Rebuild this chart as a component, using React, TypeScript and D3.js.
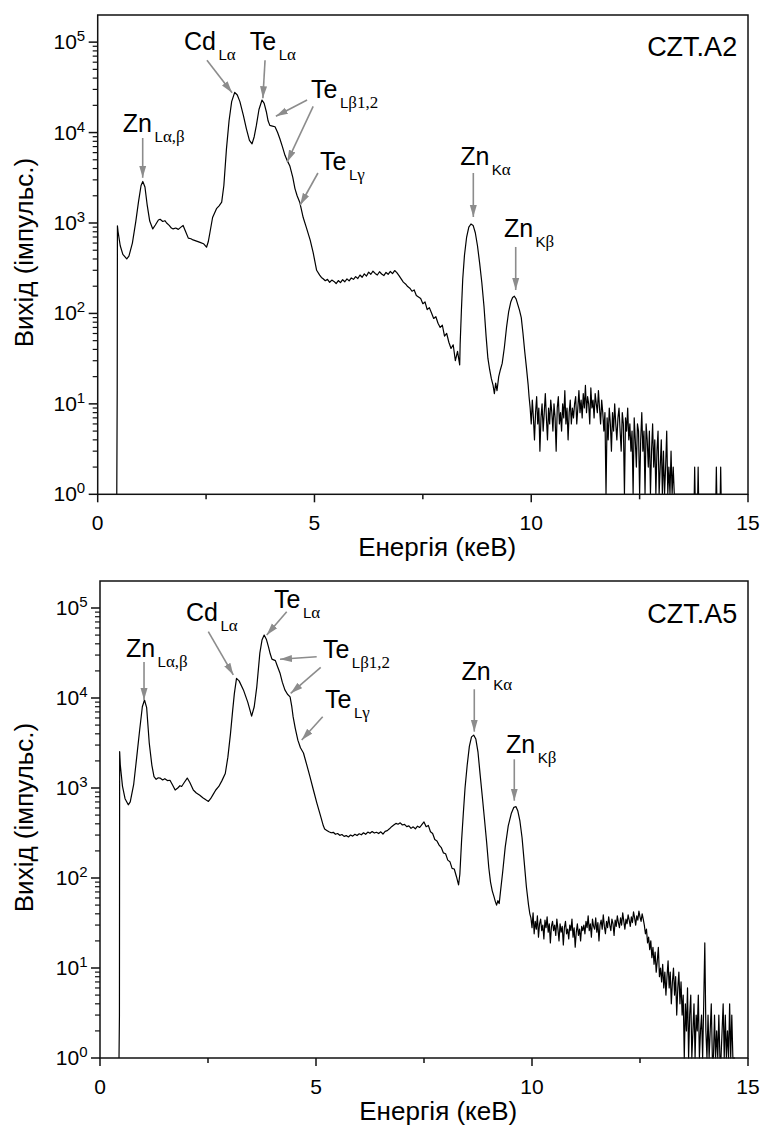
import React from 'react';
import * as d3 from 'd3';

type Pair = [number, number];

// ---------- axes ----------
const xMajorTicks = [0, 5, 10, 15];
const xMinorTicks = [2.5, 7.5, 12.5];
const yDecades = [0, 1, 2, 3, 4, 5];
const yTopExponent = 5.3;

// ---------- CZT.A2 spectrum ----------
const a2Head: Pair[] = [[0.44,1],[0.45,14],[0.455,930],[0.47,800],[0.52,560],[0.58,450],[0.67,400],[0.72,430],[0.8,600],[0.88,1050],[0.94,1700],[1.0,2600],[1.04,2880],[1.09,2500],[1.14,1600],[1.2,1050],[1.27,860],[1.33,950],[1.4,1080],[1.44,1100],[1.5,1040],[1.55,1060],[1.59,1000],[1.65,940],[1.7,880],[1.74,860],[1.8,880],[1.86,850],[1.92,900],[1.97,940],[2.02,820],[2.09,680],[2.15,670],[2.2,650],[2.28,630],[2.36,610],[2.44,590],[2.51,540],[2.55,620],[2.59,790],[2.65,1150],[2.74,1440],[2.8,1550],[2.86,1700],[2.91,2600],[2.97,6600],[3.03,13500],[3.09,22000],[3.16,27800],[3.22,26000],[3.28,22000],[3.36,15500],[3.43,11000],[3.5,8200],[3.56,7500],[3.61,9000],[3.66,12000],[3.72,18000],[3.79,22900],[3.84,21000],[3.89,17000],[3.93,13500],[3.97,12000],[4.03,11800],[4.09,11600],[4.15,10000],[4.2,8600],[4.26,7000],[4.32,5600],[4.38,4800],[4.43,4300],[4.5,3200],[4.55,2400],[4.6,2000],[4.66,1700],[4.74,1150],[4.81,900],[4.9,650],[4.97,470],[5.05,300],[5.12,265],[5.16,250]];
const a2MidStart = 5.2;
const a2MidStep = 0.05;
const a2Mid = [242,230,238,221,234,226,214,231,219,236,224,241,229,247,238,255,243,266,251,274,259,286,271,293,277,266,289,273,262,284,271,291,276,298,283,262,241,222,212,198,190,176,182,158,152,146,128,134,110,116,101,88,92,78,70,74,56,60,48,41,45,30,38,27];
const a2K: Pair[] = [[8.36,45],[8.39,110],[8.42,240],[8.46,440],[8.51,700],[8.56,900],[8.61,975],[8.66,940],[8.71,780],[8.76,560],[8.81,360],[8.86,220],[8.91,120],[8.96,55],[9.0,32],[9.04,24],[9.08,19],[9.12,16],[9.15,13],[9.18,17],[9.21,14],[9.25,20],[9.29,24],[9.33,28],[9.38,42],[9.43,70],[9.48,105],[9.53,135],[9.57,150],[9.61,155],[9.65,145],[9.69,125],[9.73,108],[9.77,90],[9.81,60],[9.85,38],[9.89,25],[9.93,16],[9.95,12]];
const a2TailStart = 9.975;
const a2TailStep = 0.025;
const a2Tail = [9,6,11,7,4,8,12,6,9,3,7,10,5,8,13,7,4,9,6,11,8,5,10,7,3,9,12,6,8,5,10,7,14,6,9,4,8,11,6,9,
  7,10,12,6,9,14,8,11,7,13,9,16,8,12,10,6,15,9,11,7,13,10,8,14,9,6,11,8,
  5,8,1,7,4,9,6,3,8,5,10,6,4,7,9,5,3,8,6,1,7,5,9,4,
  6,3,5,1,7,4,2,6,5,1,4,8,3,5,1,6,4,2,5,1,3,6,2,4,1,3,5,1,
  2,4,1,3,1,2,5,1,2,1,3,1,2,1];
const a2End: Pair[] = [[13.32,1],[13.76,1],[13.77,2],[13.78,1],[13.84,1],[13.85,2],[13.86,1],[14.26,1],[14.27,2],[14.28,1],[14.36,1],[14.37,2],[14.38,1]];

// ---------- CZT.A5 spectrum ----------
const a5Head: Pair[] = [[0.44,1],[0.45,3],[0.455,2530],[0.47,1800],[0.52,1050],[0.58,760],[0.655,650],[0.7,700],[0.78,1100],[0.85,2200],[0.92,4500],[0.98,8000],[1.03,9500],[1.08,7800],[1.14,3160],[1.2,1800],[1.25,1340],[1.3,1250],[1.35,1300],[1.39,1290],[1.45,1230],[1.5,1270],[1.56,1210],[1.62,1220],[1.68,1080],[1.74,950],[1.8,1000],[1.85,1060],[1.89,1040],[1.95,1150],[2.02,1290],[2.08,1150],[2.16,950],[2.23,880],[2.31,830],[2.38,780],[2.45,740],[2.51,710],[2.56,760],[2.62,850],[2.68,950],[2.75,1040],[2.82,1200],[2.9,1450],[2.96,2200],[3.02,4000],[3.07,7200],[3.11,11200],[3.16,16500],[3.22,15500],[3.32,12300],[3.42,9000],[3.51,6300],[3.57,8000],[3.63,13400],[3.7,31500],[3.75,44000],[3.8,50000],[3.85,45000],[3.9,37000],[3.94,31000],[3.98,27000],[4.02,26500],[4.06,26000],[4.1,23000],[4.17,18700],[4.22,15000],[4.28,12300],[4.34,11000],[4.4,10300],[4.44,8000],[4.47,6200],[4.52,4600],[4.58,3400],[4.64,2800],[4.71,2450],[4.78,1850],[4.86,1340],[4.94,950],[5.02,680],[5.1,500],[5.17,380]];
const a5MidStart = 5.2;
const a5MidStep = 0.05;
const a5Mid = [350,338,326,318,322,306,312,298,304,290,296,286,300,292,306,296,310,302,318,306,324,314,328,316,322,312,326,308,330,336,352,372,388,404,396,410,388,394,372,380,356,370,352,376,364,392,420,372,384,326,312,268,258,232,218,190,186,158,152,128,126,104,84];
const a5K: Pair[] = [[8.33,110],[8.37,260],[8.41,520],[8.45,1000],[8.5,1800],[8.55,2900],[8.6,3700],[8.65,3870],[8.7,3500],[8.75,2500],[8.8,1400],[8.85,800],[8.9,450],[8.95,250],[9.0,130],[9.04,90],[9.08,72],[9.12,62],[9.15,55],[9.18,50],[9.21,56],[9.24,52],[9.27,70],[9.32,115],[9.38,220],[9.45,380],[9.52,520],[9.58,610],[9.63,620],[9.67,560],[9.72,430],[9.77,280],[9.82,150],[9.87,80],[9.92,50],[9.95,40]];
const a5TailStart = 9.975;
const a5TailStep = 0.025;
const a5Tail = [36,28,41,24,33,27,38,22,31,35,26,30,21,34,28,37,25,31,19,29,33,
  26,30,23,35,27,20,31,25,29,18,28,33,24,27,21,30,26,35,22,28,17,25,31,23,27,20,29,26,
  30,24,33,28,38,26,31,22,35,29,27,36,25,32,20,30,34,27,39,29,24,33,28,37,30,26,35,31,23,34,29,38,
  32,28,36,30,41,33,27,35,31,39,34,29,37,32,42,36,30,38,34,43,37,33,40,35,
  30,24,27,19,22,16,20,13,17,11,15,9,12,17,8,10,
  7,11,6,9,5,8,12,6,9,4,7,10,5,8,3,6,9,4,7,3,
  5,1,4,2,6,1,3,5,1,2,4,1,3,2,5,1,2,3,1,4,
  19,2,1,3,1,2,4,1,1,3,1,2,1,3,1,1,2,4,1,3,1,2,1,4,1,3,1,1];
const a5End: Pair[] = [[14.7,1]];

// ---------- annotations (energy, log10 counts) ----------
type Label = { main: string; sub: string; greek: string; e: number; lg: number };
const a2Labels: Label[] = [
  { main: 'Zn', sub: 'L', greek: 'α,β', e: 0.58, lg: 4.01 },
  { main: 'Cd', sub: 'L', greek: 'α', e: 1.99, lg: 4.916 },
  { main: 'Te', sub: 'L', greek: 'α', e: 3.51, lg: 4.916 },
  { main: 'Te', sub: 'L', greek: 'β1,2', e: 4.92, lg: 4.38 },
  { main: 'Te', sub: 'L', greek: 'γ', e: 5.13, lg: 3.586 },
  { main: 'Zn', sub: 'K', greek: 'α', e: 8.36, lg: 3.64 },
  { main: 'Zn', sub: 'K', greek: 'β', e: 9.37, lg: 2.85 },
];
const a2Arrows = [
  [1.038, 3.94, 1.038, 3.5],
  [2.52, 4.8, 3.1, 4.44],
  [3.86, 4.8, 3.81, 4.38],
  [4.83, 4.36, 4.11, 4.18],
  [4.97, 4.29, 4.37, 3.675],
  [5.08, 3.553, 4.67, 3.199],
  [8.664, 3.553, 8.664, 3.066],
  [9.642, 2.735, 9.642, 2.259],
];
const a5Labels: Label[] = [
  { main: 'Zn', sub: 'L', greek: 'α,β', e: 0.6, lg: 4.459 },
  { main: 'Cd', sub: 'L', greek: 'α', e: 1.99, lg: 4.856 },
  { main: 'Te', sub: 'L', greek: 'α', e: 4.03, lg: 4.997 },
  { main: 'Te', sub: 'L', greek: 'β1,2', e: 5.16, lg: 4.444 },
  { main: 'Te', sub: 'L', greek: 'γ', e: 5.21, lg: 3.886 },
  { main: 'Zn', sub: 'K', greek: 'α', e: 8.37, lg: 4.2 },
  { main: 'Zn', sub: 'K', greek: 'β', e: 9.4, lg: 3.386 },
];
const a5Arrows = [
  [1.019, 4.4, 1.019, 3.978],
  [2.507, 4.737, 3.086, 4.256],
  [4.322, 4.959, 3.859, 4.7],
  [5.016, 4.459, 4.167, 4.43],
  [5.109, 4.341, 4.414, 4.052],
  [5.155, 3.792, 4.669, 3.533],
  [8.664, 4.097, 8.664, 3.626],
  [9.59, 3.319, 9.59, 2.859],
];

const xTitle = 'Енергія (кеВ)';
const yTitle = 'Вихід (імпульс.)';

const SANS = "'Liberation Sans', Arial, Helvetica, sans-serif";
const SERIF = "'Liberation Serif', 'Times New Roman', serif";
const ARROW = '#8c8c8c';

function build(head: Pair[], midStart: number, midStep: number, mid: number[], k: Pair[], tailStart: number, tailStep: number, tail: number[], end: Pair[]): Pair[] {
  const out: Pair[] = [...head];
  mid.forEach((v, i) => out.push([midStart + i * midStep, v]));
  out.push(...k);
  tail.forEach((v, i) => out.push([tailStart + i * tailStep, v]));
  out.push(...end);
  return out;
}

type Frame = { left: number; right: number; top: number; bottom: number };

function Panel(props: { frame: Frame; series: Pair[]; labels: Label[]; arrows: number[][]; name: string; nameLg: number }) {
  const { frame, series, labels, arrows, name, nameLg } = props;
  const x = d3.scaleLinear().domain([0, 15]).range([frame.left, frame.right]);
  const y = d3.scaleLog().domain([1, Math.pow(10, yTopExponent)]).range([frame.bottom, frame.top]).clamp(true);
  const line = d3.line<Pair>().x(d => x(d[0])).y(d => y(d[1]));
  const minor: number[] = [];
  yDecades.forEach(dd => {
    for (let m = 2; m <= 9; m++) {
      const v = m * Math.pow(10, dd);
      if (v <= Math.pow(10, yTopExponent)) minor.push(v);
    }
  });
  const cy = (frame.top + frame.bottom) / 2;
  return (
    <g>
      <path d={line(series) || ''} fill="none" stroke="#000" strokeWidth={1.2} strokeLinejoin="round" />
      <rect x={frame.left} y={frame.top} width={frame.right - frame.left} height={frame.bottom - frame.top} fill="none" stroke="#111" strokeWidth={1.5} />
      {xMajorTicks.map(t => (
        <g key={'xm' + t}>
          <line x1={x(t)} x2={x(t)} y1={frame.bottom} y2={frame.bottom + 8} stroke="#111" strokeWidth={1.5} />
          <text x={x(t)} y={frame.bottom + 36} textAnchor="middle" fontFamily={SANS} fontSize={21}>{t}</text>
        </g>
      ))}
      {xMinorTicks.map(t => (
        <line key={'xn' + t} x1={x(t)} x2={x(t)} y1={frame.bottom} y2={frame.bottom + 5} stroke="#111" strokeWidth={1.5} />
      ))}
      {yDecades.map(dd => {
        const v = Math.pow(10, dd);
        return (
          <g key={'ym' + dd}>
            <line x1={frame.left - 9} x2={frame.left} y1={y(v)} y2={y(v)} stroke="#111" strokeWidth={1.5} />
            <text x={frame.left - 12.5} y={y(v) + 7} textAnchor="end" fontFamily={SANS} fontSize={21}>
              10<tspan dy={-8} fontSize={15}>{dd}</tspan>
            </text>
          </g>
        );
      })}
      {minor.map(v => (
        <line key={'yn' + v} x1={frame.left - 5} x2={frame.left} y1={y(v)} y2={y(v)} stroke="#111" strokeWidth={1.2} />
      ))}
      <text x={x(7.83)} y={frame.bottom + 62} textAnchor="middle" fontFamily={SANS} fontSize={26}>{xTitle}</text>
      <text transform={`translate(33,${cy - 2}) rotate(-90)`} textAnchor="middle" fontFamily={SANS} fontSize={26}>{yTitle}</text>
      <text x={x(14.75)} y={y(Math.pow(10, nameLg))} textAnchor="end" fontFamily={SANS} fontSize={27}>{name}</text>
      {arrows.map((a, i) => (
        <line key={'ar' + i} x1={x(a[0])} y1={y(Math.pow(10, a[1]))} x2={x(a[2])} y2={y(Math.pow(10, a[3]))} stroke={ARROW} strokeWidth={1.6} markerEnd="url(#ahead)" />
      ))}
      {labels.map((l, i) => (
        <text key={'lb' + i} x={x(l.e)} y={y(Math.pow(10, l.lg))} fontFamily={SANS} fontSize={25}>
          {l.main}
          <tspan dx={2.5} dy={10} fontSize={15}>{l.sub}</tspan>
          <tspan fontFamily={SERIF} fontSize={17}>{l.greek}</tspan>
        </text>
      ))}
    </g>
  );
}

export default function App() {
  const s2 = build(a2Head, a2MidStart, a2MidStep, a2Mid, a2K, a2TailStart, a2TailStep, a2Tail, a2End);
  const s5 = build(a5Head, a5MidStart, a5MidStep, a5Mid, a5K, a5TailStart, a5TailStep, a5Tail, a5End);
  return (
    <svg width={763} height={1126} viewBox="0 0 763 1126" style={{ position: 'absolute', left: 0, top: 0, background: '#fff' }}>
      <defs>
        <marker id="ahead" markerUnits="userSpaceOnUse" markerWidth={13} markerHeight={8} refX={12} refY={4} orient="auto">
          <path d="M0,0.5 L12,4 L0,7.5 Z" fill={ARROW} />
        </marker>
      </defs>
      <rect x={0} y={0} width={763} height={1126} fill="#fff" />
      <Panel frame={{ left: 97.7, right: 748, top: 15, bottom: 494.3 }} series={s2} labels={a2Labels} arrows={a2Arrows} name="CZT.A2" nameLg={4.847} />
      <Panel frame={{ left: 100, right: 748, top: 581, bottom: 1058 }} series={s5} labels={a5Labels} arrows={a5Arrows} name="CZT.A5" nameLg={4.83} />
    </svg>
  );
}
